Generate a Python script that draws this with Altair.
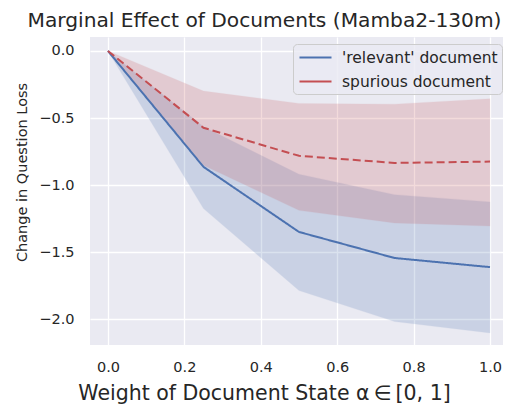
import altair as alt
import pandas as pd

alphas = [0.0, 0.25, 0.5, 0.75, 1.0]
series_names = ["'relevant' document", "spurious document"]
relevant_mean = [0.0, -0.863, -1.348, -1.542, -1.610]
relevant_lo = [0.0, -1.174, -1.784, -2.015, -2.100]
relevant_hi = [0.0, -0.565, -0.918, -1.070, -1.124]
spurious_mean = [0.0, -0.572, -0.781, -0.834, -0.824]
spurious_lo = [0.0, -0.851, -1.187, -1.281, -1.304]
spurious_hi = [0.0, -0.299, -0.391, -0.396, -0.356]
x_ticks = [0.0, 0.2, 0.4, 0.6, 0.8, 1.0]
y_ticks = [-2.0, -1.5, -1.0, -0.5, 0.0]

BLUE = "#4C72B0"
RED = "#C44E52"
FONT = "DejaVu Sans"
TXT = "#262626"

rows = []
for name, m, lo, hi in [
    (series_names[0], relevant_mean, relevant_lo, relevant_hi),
    (series_names[1], spurious_mean, spurious_lo, spurious_hi),
]:
    for a, mv, lv, hv in zip(alphas, m, lo, hi):
        rows.append({"alpha": a, "series": name, "mean": mv, "lo": lv, "hi": hv})
df = pd.DataFrame(rows)

xscale = alt.Scale(domain=[-0.047, 1.034], nice=False, zero=False)
yscale = alt.Scale(domain=[-2.19, 0.104], nice=False, zero=False)

xaxis = alt.Axis(
    values=x_ticks, format=".1f", title="Weight of Document State α\u2009∈\u2009[0, 1]",
    ticks=False, domain=False, labelPadding=15, labelFontSize=14.5,
    titleFontSize=20.5, titleFontWeight="normal", titleX=174, titleY=48,
    titleAlign="center", titleBaseline="middle", grid=True,
)
yaxis = alt.Axis(
    values=y_ticks, format=".1f", title="Change in Question Loss",
    ticks=False, domain=False, labelPadding=16, labelFontSize=14.5,
    titleFontSize=14.5, titleFontWeight="normal", titleX=-68, titleY=135,
    titleAlign="center", titleBaseline="middle", grid=True,
)

band = alt.Chart(df).mark_area(opacity=0.2, strokeOpacity=0.25, strokeWidth=1).encode(
    x=alt.X("alpha:Q", scale=xscale, axis=xaxis),
    y=alt.Y("lo:Q", scale=yscale, axis=yaxis),
    y2="hi:Q",
    fill=alt.Fill("series:N", scale=alt.Scale(domain=series_names, range=[BLUE, RED]), legend=None),
    stroke=alt.Stroke("series:N", scale=alt.Scale(domain=series_names, range=[BLUE, RED]), legend=None),
    detail="series:N",
)

line = alt.Chart(df).mark_line(strokeWidth=2).encode(
    x=alt.X("alpha:Q", scale=xscale),
    y=alt.Y("mean:Q", scale=yscale),
    color=alt.Color(
        "series:N",
        scale=alt.Scale(domain=series_names, range=[BLUE, RED]),
        legend=alt.Legend(title=None),
    ),
    strokeDash=alt.StrokeDash(
        "series:N",
        scale=alt.Scale(domain=series_names, range=[[1, 0], [8, 4]]),
        legend=alt.Legend(title=None),
    ),
)

chart = (
    alt.layer(band, line)
    .resolve_scale(color="independent")
    .properties(
        width=413,
        height=308,
        autosize=alt.AutoSizeParams(type="none"),
        padding={"left": 82, "top": 29, "right": 0, "bottom": 62},
        title=alt.TitleParams(
            "Marginal Effect of Documents (Mamba2-130m)",
            fontSize=20.2, font=FONT, fontWeight="normal", color=TXT,
            anchor="middle", dx=-32, offset=6,
        ),
    )
    .configure_view(fill="#EAEAF2", stroke=None)
    .configure_axis(
        gridColor="white", gridWidth=1.3, labelFont=FONT, titleFont=FONT,
        labelColor=TXT, titleColor=TXT,
    )
    .configure_legend(
        orient="none", legendX=203, legendY=7,
        fillColor="rgba(234,234,242,0.8)", strokeColor="#cccccc",
        cornerRadius=4, padding=4,
        labelFont=FONT, labelFontSize=15.5, labelColor=TXT, labelOffset=17,
        symbolType="M-2,0H2", symbolSize=256, symbolStrokeWidth=2.2,
        symbolOffset=9, rowPadding=6,
    )
)

chart.save("out.html", embed_options={"renderer": "svg", "actions": False})
